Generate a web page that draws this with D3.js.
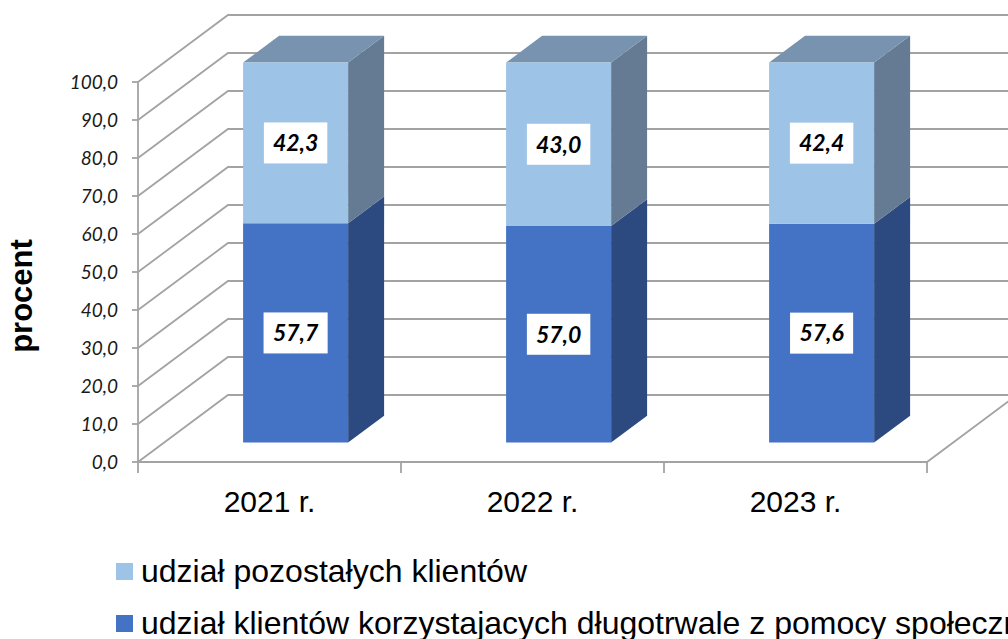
<!DOCTYPE html>
<html lang="pl">
<head>
  <meta charset="UTF-8" />
  <title>Udział klientów pomocy społecznej</title>
  <script src="https://d3js.org/d3.v7.min.js"></script>
  <style>
    body { margin: 0; background: white; overflow: hidden; }
    svg { display: block; }
  </style>
</head>
<body>
<svg id="chart" width="1008" height="639"></svg>

<script>
// Data
const categories = ['2021 r.', '2022 r.', '2023 r.'];
const longTerm = [57.7, 57.0, 57.6];   // udział klientów korzystających długotrwale
const others = [42.3, 43.0, 42.4];     // udział pozostałych klientów
const yTicks = [0, 10, 20, 30, 40, 50, 60, 70, 80, 90, 100];
const seriesNames = [
  'udział pozostałych klientów',
  'udział klientów korzystajacych długotrwale z pomocy społecznej'
];

const svg = d3.select('#chart');

// 3D-ish geometry: front plane + depth offset
const depth = { dx: 90, dy: -67 };
const barZ0 = 0.29, barZ1 = 0.69;
const barWidth = 105;

const x = d3.scaleBand().domain(categories).range([138, 927]);
const y = d3.scaleLinear().domain([0, 100]).range([462, 82]);

const proj = (px, py, z) => [px + z * depth.dx, py + z * depth.dy];
const poly = pts => 'M' + pts.map(p => p.join(',')).join('L') + 'Z';

const gridColor = '#a3a3a3';
const grid = svg.append('g').attr('fill', 'none').attr('stroke', gridColor).attr('stroke-width', 1.8);

// left wall diagonals + back wall horizontals
yTicks.forEach(t => {
  const f = [138, y(t)];
  const b = proj(138, y(t), 1);
  grid.append('path').attr('d', `M${f[0]},${f[1]}L${b[0]},${b[1]}L${b[0] + 789},${b[1]}`);
});

// floor front edge and right edge
const fr = proj(927, y(0), 1);
grid.append('path').attr('d', `M138,${y(0)}L927,${y(0)}L${fr[0]},${fr[1]}`);

// y axis line and ticks
grid.append('line').attr('x1', 138).attr('x2', 138).attr('y1', y(100)).attr('y2', y(0));
yTicks.forEach(t => {
  grid.append('line').attr('x1', 132).attr('x2', 138).attr('y1', y(t)).attr('y2', y(t));
});

// category ticks
const catEdges = categories.map(c => x(c)).concat([x.range()[1]]);
catEdges.forEach(cx => {
  grid.append('line').attr('x1', cx).attr('x2', cx).attr('y1', y(0)).attr('y2', y(0) + 11);
});

// y tick labels
svg.append('g').selectAll('text').data(yTicks).enter().append('text')
  .attr('x', 118).attr('y', d => y(d)).attr('dy', '0.35em')
  .attr('text-anchor', 'end')
  .style('font-family', 'Lato, "Open Sans", sans-serif')
  .style('font-style', 'italic')
  .style('font-size', '19px')
  .attr('fill', '#1a1a1a')
  .text(d => d.toFixed(1).replace('.', ','));

// axis title
svg.append('text')
  .attr('transform', 'translate(32,296) rotate(-90)')
  .attr('text-anchor', 'middle')
  .style('font-family', '"Liberation Sans", Arial, sans-serif')
  .style('font-weight', 'bold')
  .style('font-size', '31px')
  .text('procent');

// category labels
svg.append('g').selectAll('text').data(categories).enter().append('text')
  .attr('x', d => x(d) + x.bandwidth() / 2)
  .attr('y', 512)
  .attr('text-anchor', 'middle')
  .style('font-family', '"Liberation Sans", Arial, sans-serif')
  .style('font-size', '30px')
  .text(d => d);

// bars
const colors = {
  low: { front: '#4472c4', side: '#2c4a7f', top: '#4f6fa6' },
  high: { front: '#9dc3e6', side: '#657b93', top: '#7893b0' }
};

const bars = svg.append('g');
const labelData = [];
categories.forEach((c, i) => {
  const fx = x(c) + (x.bandwidth() - barWidth) / 2;
  const segs = [
    { v0: 0, v1: longTerm[i], col: colors.low, val: longTerm[i] },
    { v0: longTerm[i], v1: longTerm[i] + others[i], col: colors.high, val: others[i] }
  ];
  segs.forEach((s, k) => {
    const yb = y(s.v0), yt = y(s.v1);
    const a = proj(fx, yt, barZ0), b = proj(fx + barWidth, yt, barZ0);
    const cB = proj(fx + barWidth, yb, barZ0), d = proj(fx, yb, barZ0);
    const b1 = proj(fx + barWidth, yt, barZ1), c1 = proj(fx + barWidth, yb, barZ1);
    const a1 = proj(fx, yt, barZ1);
    // side
    bars.append('path').attr('d', poly([b, b1, c1, cB])).attr('fill', s.col.side);
    // top
    if (k === segs.length - 1) {
      bars.append('path').attr('d', poly([a, a1, b1, b])).attr('fill', s.col.top);
    }
    // front
    bars.append('path').attr('d', poly([a, b, cB, d])).attr('fill', s.col.front);
    labelData.push({ cx: (a[0] + b[0]) / 2, cy: (a[1] + d[1]) / 2, text: s.val.toFixed(1).replace('.', ',') });
  });
});

// value labels in white boxes
const lab = svg.append('g').selectAll('g').data(labelData).enter().append('g');
lab.append('rect').attr('fill', 'white');
lab.append('text')
  .attr('x', d => d.cx).attr('y', d => d.cy).attr('dy', '0.36em')
  .attr('text-anchor', 'middle')
  .style('font-family', 'Lato, "Open Sans", sans-serif')
  .style('font-weight', 'bold')
  .style('font-style', 'italic')
  .style('font-size', '23px')
  .text(d => d.text);
lab.each(function (d) {
  const bb = d3.select(this).select('text').node().getBBox();
  const w = bb.width + 18, h = 41;
  d3.select(this).select('rect')
    .attr('x', d.cx - w / 2).attr('y', d.cy - h / 2)
    .attr('width', w).attr('height', h);
});

// legend (second entry runs past the right edge, as in the source)
const legendColors = [colors.high.front, colors.low.front];
const leg = svg.append('g').selectAll('g').data(seriesNames).enter().append('g')
  .attr('transform', (d, i) => `translate(116,${582 + i * 52})`);
leg.append('rect').attr('y', -19).attr('width', 17).attr('height', 17).attr('fill', (d, i) => legendColors[i]);
leg.append('text')
  .attr('x', 25).attr('y', 0)
  .style('font-family', '"Liberation Sans", Arial, sans-serif')
  .style('font-size', '32px')
  .text(d => d);
</script>
</body>
</html>
